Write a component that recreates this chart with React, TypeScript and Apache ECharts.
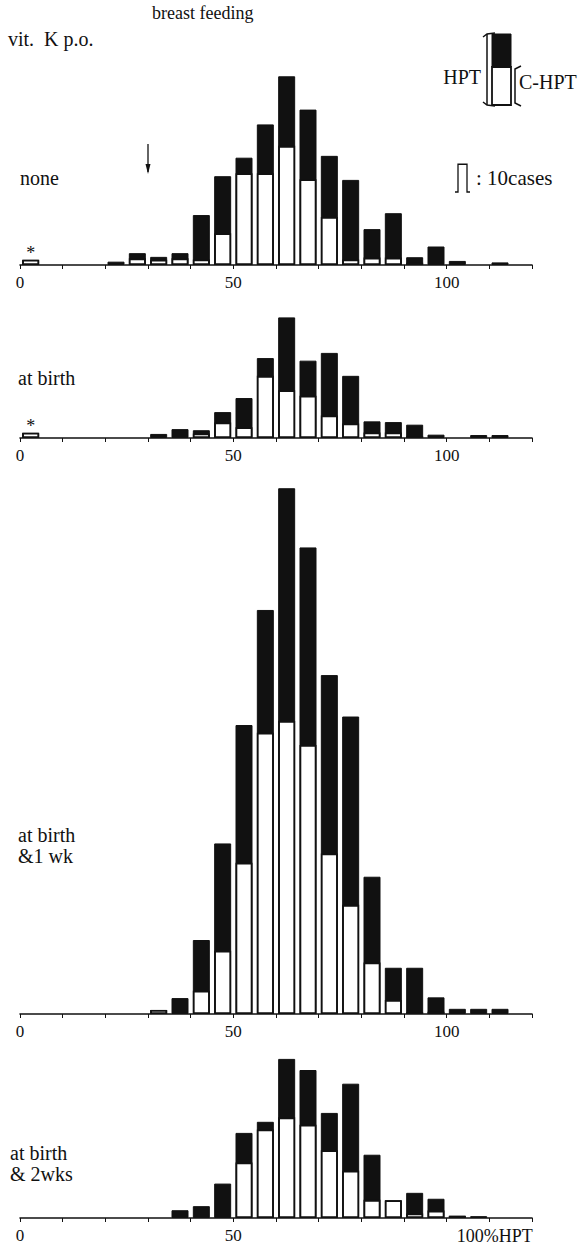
import React, { useEffect, useRef } from "react";
import * as echarts from "echarts";

// ---- data (cases per 5 %HPT bin) ----
const BIN_STARTS = [0, 5, 10, 15, 20, 25, 30, 35, 40, 45, 50, 55, 60, 65, 70, 75, 80, 85, 90, 95, 100, 105, 110, 115];
const X_TICK_LABELS = [0, 50, 100];
const PANEL_LABELS = [["none"], ["at birth"], ["at birth", "&1 wk"], ["at birth", "& 2wks"]];

// total HPT cases (full bar) and C-HPT cases (white lower part)
const NONE_HPT = [1.4, 0, 0, 0, 0.9, 3.2, 2.2, 3.2, 13.5, 24, 29, 38, 51, 42, 29.5, 23, 9.7, 14, 2.1, 5, 1.1, 0, 0.7, 0];
const NONE_CHPT = [1.4, 0, 0, 0, 0, 1.8, 1.4, 1.8, 1.5, 8.6, 24.8, 24.8, 32.2, 23.2, 13, 1.5, 2, 2, 0.6, 0, 0, 0, 0, 0];

const BIRTH_HPT = [1.4, 0, 0, 0, 0, 0, 1.1, 2.4, 2.1, 7, 10.8, 21.6, 32.6, 20.9, 23, 16.8, 4.5, 4.3, 3.6, 0.9, 0, 0.8, 0.8, 0];
const BIRTH_CHPT = [1.4, 0, 0, 0, 0, 0, 0, 0, 1.2, 4.2, 2.9, 16.8, 12.9, 11.4, 6.1, 3.9, 1.5, 1.5, 0.5, 0, 0, 0, 0, 0];

const WK1_HPT = [0, 0, 0, 0, 0, 0, 1.1, 4.3, 20, 46.1, 78.1, 109.2, 142.1, 126.1, 91.6, 80.4, 37.1, 12.5, 12.5, 4.5, 1.4, 1.4, 1.4, 0];
const WK1_CHPT = [0, 0, 0, 0, 0, 0, 1.1, 0, 6.3, 17.1, 40.9, 76, 79.2, 72.7, 43.4, 29.5, 13.9, 3.8, 0.5, 0.6, 0, 0, 0, 0];

const WK2_HPT = [0, 0, 0, 0, 0, 0, 0, 2.1, 3.2, 9.3, 23, 26, 43, 40, 28.4, 36.3, 17.1, 4.8, 6.8, 5.2, 0.6, 0.5, 0, 0];
const WK2_CHPT = [0, 0, 0, 0, 0, 0, 0, 0, 0, 0, 15, 23.9, 27.2, 25.2, 18.3, 12.8, 4.9, 4.8, 1.2, 2, 0.6, 0, 0, 0];

const SCALE_CASES = 10;

// ---- layout ----
const W = 583;
const H = 1252;
const AX_LEFT = 20;
const AX_RIGHT = 532;
const X_MAX = 120;
const PX_PER_CASE = 3.7;
const SERIF = "Liberation Serif";
const INK = "#111";

const PANELS = [
  { hpt: NONE_HPT, chpt: NONE_CHPT, base: 265, max: 55, label: PANEL_LABELS[0], labelX: 20, labelY: 178, last: false },
  { hpt: BIRTH_HPT, chpt: BIRTH_CHPT, base: 438, max: 35, label: PANEL_LABELS[1], labelX: 18, labelY: 378, last: false },
  { hpt: WK1_HPT, chpt: WK1_CHPT, base: 1014, max: 145, label: PANEL_LABELS[2], labelX: 18, labelY: 835, last: false },
  { hpt: WK2_HPT, chpt: WK2_CHPT, base: 1218, max: 45, label: PANEL_LABELS[3], labelX: 10, labelY: 1153, last: true },
];

const xPx = (v: number) => AX_LEFT + (v / X_MAX) * (AX_RIGHT - AX_LEFT);

export default function App() {
  const ref = useRef<HTMLDivElement>(null);

  useEffect(() => {
    if (!ref.current) return;
    const chart = echarts.init(ref.current, undefined, { renderer: "svg" });

    const grids: any[] = [];
    const xAxes: any[] = [];
    const yAxes: any[] = [];
    const series: any[] = [];
    const graphics: any[] = [];

    PANELS.forEach((p, i) => {
      const h = p.max * PX_PER_CASE;
      grids.push({ left: AX_LEFT, width: AX_RIGHT - AX_LEFT, top: p.base - h, height: h });
      xAxes.push({
        type: "value",
        gridIndex: i,
        min: 0,
        max: X_MAX,
        interval: 10,
        axisLine: { show: true, lineStyle: { color: INK, width: 1.6 } },
        axisTick: { show: true, length: 4, lineStyle: { color: INK, width: 1 } },
        splitLine: { show: false },
        axisLabel: {
          show: true,
          margin: 9,
          color: INK,
          fontFamily: SERIF,
          fontSize: 17,
          showMinLabel: true,
          formatter: (v: number) => {
            if (!X_TICK_LABELS.includes(v)) return "";
            if (p.last && v === 100) return "{r|100%HPT}";
            return String(v);
          },
          rich: { r: { fontFamily: SERIF, fontSize: 18, color: INK, padding: [0, 0, 0, 96] } },
        },
      });
      yAxes.push({ type: "value", gridIndex: i, min: 0, max: p.max, show: false });

      const total = p.hpt.map((t, k) => [BIN_STARTS[k] + 2.5, t > 0 ? t : null]);
      const white = p.hpt.map((t, k) => [BIN_STARTS[k] + 2.5, t > 0 && p.chpt[k] > 0 ? p.chpt[k] : null]);
      series.push({
        type: "bar",
        name: "HPT",
        xAxisIndex: i,
        yAxisIndex: i,
        barWidth: 17,
        barGap: "-100%",
        data: total,
        itemStyle: { color: INK, borderColor: INK, borderWidth: 1 },
        silent: true,
        z: 2,
      });
      series.push({
        type: "bar",
        name: "C-HPT",
        xAxisIndex: i,
        yAxisIndex: i,
        barWidth: 17,
        barGap: "-100%",
        data: white,
        itemStyle: { color: "#fff", borderColor: INK, borderWidth: 1.8 },
        silent: true,
        z: 3,
      });

      p.label.forEach((line, j) => {
        graphics.push({
          type: "text",
          x: p.labelX,
          y: p.labelY + j * 21,
          style: { text: line, fontFamily: SERIF, fontSize: 20, fill: INK, textVerticalAlign: "middle" },
        });
      });
    });

    // title texts
    graphics.push({
      type: "text",
      x: 152,
      y: 13,
      style: { text: "breast feeding", fontFamily: SERIF, fontSize: 18, fill: INK, textVerticalAlign: "middle" },
    });
    graphics.push({
      type: "text",
      x: 8,
      y: 39,
      style: { text: "vit.  K p.o.", fontFamily: SERIF, fontSize: 20, fill: INK, textVerticalAlign: "middle" },
    });

    // legend bar with brackets
    const lx = 492;
    const lw = 19;
    const lTop = 34;
    const lMid = 67;
    const lBot = 105;
    graphics.push({ type: "rect", shape: { x: lx, y: lTop, width: lw, height: lMid - lTop }, style: { fill: INK, stroke: INK, lineWidth: 1 } });
    graphics.push({ type: "rect", shape: { x: lx, y: lMid, width: lw, height: lBot - lMid }, style: { fill: "#fff", stroke: INK, lineWidth: 1.8 } });
    // left brace (HPT)
    const bx = lx - 5;
    graphics.push({
      type: "polyline",
      shape: { points: [[bx - 4, lTop + 3], [bx, lTop], [bx + 8, lTop - 1]] },
      style: { stroke: INK, lineWidth: 1.5, fill: "none" },
    });
    graphics.push({ type: "line", shape: { x1: bx, y1: lTop, x2: bx, y2: lBot }, style: { stroke: INK, lineWidth: 1.5 } });
    graphics.push({
      type: "polyline",
      shape: { points: [[bx - 4, lBot - 3], [bx, lBot], [bx + 8, lBot + 1]] },
      style: { stroke: INK, lineWidth: 1.5, fill: "none" },
    });
    // right brace (C-HPT)
    const rx = lx + lw + 4;
    graphics.push({
      type: "polyline",
      shape: { points: [[rx + 6, lMid - 1], [rx, lMid + 2], [rx, lBot - 2], [rx + 6, lBot + 1]] },
      style: { stroke: INK, lineWidth: 1.5, fill: "none" },
    });
    graphics.push({
      type: "text",
      x: bx - 6,
      y: 77,
      style: { text: "HPT", fontFamily: SERIF, fontSize: 20, fill: INK, textAlign: "right", textVerticalAlign: "middle" },
    });
    graphics.push({
      type: "text",
      x: rx + 4,
      y: 82,
      style: { text: "C-HPT", fontFamily: SERIF, fontSize: 20, fill: INK, textVerticalAlign: "middle" },
    });

    // 10 cases scale symbol
    const sh = SCALE_CASES * PX_PER_CASE * 0.75;
    const sx = 458;
    const sBot = 192;
    graphics.push({
      type: "polyline",
      shape: {
        points: [
          [sx - 3, sBot],
          [sx, sBot],
          [sx, sBot - sh],
          [sx + 9, sBot - sh],
          [sx + 9, sBot],
          [sx + 12, sBot],
        ],
      },
      style: { stroke: INK, lineWidth: 1.3, fill: "none" },
    });
    graphics.push({
      type: "text",
      x: sx + 18,
      y: 178,
      style: { text: ": " + SCALE_CASES + "cases", fontFamily: SERIF, fontSize: 21, fill: INK, textVerticalAlign: "middle" },
    });

    // arrow in panel 1 at 30 %
    const ax = xPx(30);
    graphics.push({ type: "line", shape: { x1: ax, y1: 144, x2: ax, y2: 172 }, style: { stroke: INK, lineWidth: 1.3 } });
    graphics.push({ type: "polygon", shape: { points: [[ax - 2.5, 164], [ax + 2.5, 164], [ax, 174]] }, style: { fill: INK } });

    // asterisks
    const ast = (x: number, y: number, size: number) =>
      graphics.push({
        type: "text",
        x,
        y,
        style: { text: "*", fontFamily: SERIF, fontSize: size, fill: INK, textAlign: "center", textVerticalAlign: "middle" },
      });
    ast(xPx(2.5), 253, 18);
    ast(xPx(2.5), 426, 18);
    ast(xPx(87.5), 1212, 10);

    chart.setOption({
      animation: false,
      backgroundColor: "#fff",
      grid: grids,
      xAxis: xAxes,
      yAxis: yAxes,
      series,
      graphic: graphics,
    });

    return () => chart.dispose();
  }, []);

  return <div ref={ref} style={{ position: "absolute", left: 0, top: 0, width: W, height: H, background: "#fff" }} />;
}
